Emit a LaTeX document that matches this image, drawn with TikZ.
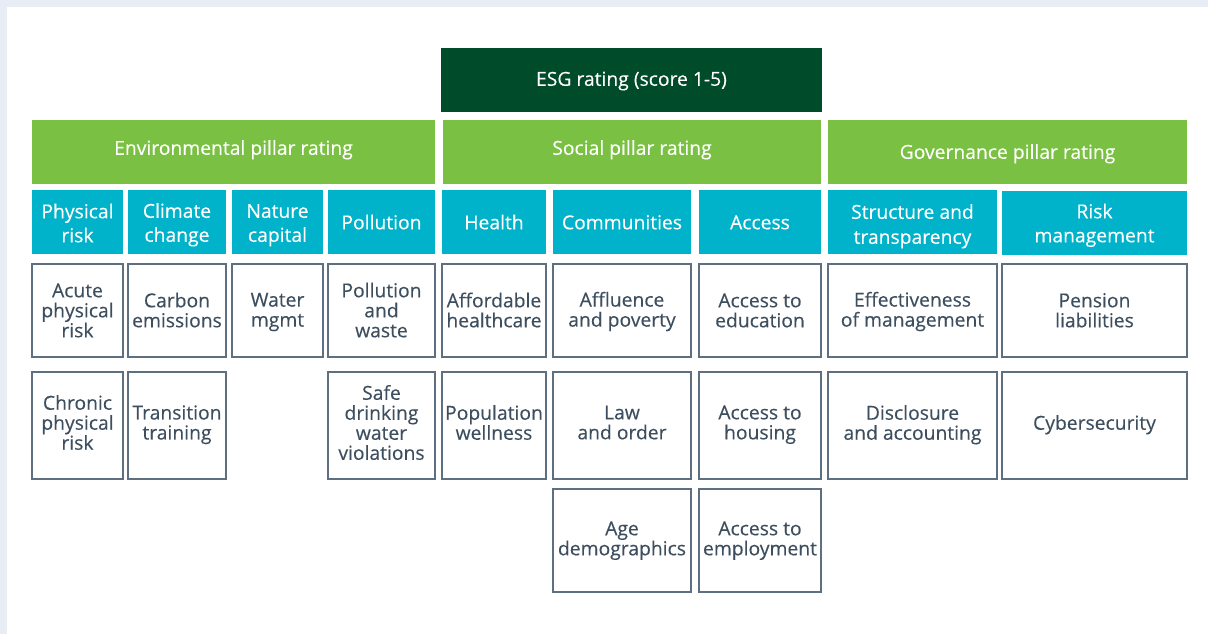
\documentclass[tikz,border=0pt]{standalone}
\usepackage{fontspec}
\setmainfont{Open Sans}[FakeBold=0.25]
\definecolor{bgpage}{HTML}{E8EDF5}
\definecolor{esgdark}{HTML}{004B29}
\definecolor{pillargreen}{HTML}{7AC143}
\definecolor{themecyan}{HTML}{00B3CA}
\definecolor{leafborder}{HTML}{5E7080}
\definecolor{leaftext}{HTML}{3D4F5F}
\newcommand{\ts}{\vrule height20.3pt depth3.7pt width0pt\relax}
\newcommand{\tsa}{\vrule height19.3pt depth4.7pt width0pt\relax}
\newcommand{\tsb}{\vrule height23.3pt depth1.7pt width0pt\relax}
\newcommand{\lsa}{\vrule height16.8pt depth3.2pt width0pt\relax}
\newcommand{\lsb}{\vrule height13.8pt depth6.2pt width0pt\relax}
\newcommand{\ls}{\vrule height14.8pt depth5.2pt width0pt\relax}
\tikzset{
  boxbase/.style={rectangle, inner sep=0pt, outer sep=0pt, anchor=north west, align=center},
  topbox/.style={boxbase, fill=esgdark, text=white, font=\fontsize{19.3}{24}\selectfont, text height=15pt, text depth=3.4pt},
  pillarbox/.style={boxbase, fill=pillargreen, text=white, font=\fontsize{19.3}{24}\selectfont, text height=10pt, text depth=4.4pt},
  govpillar/.style={pillarbox, text height=17pt, text depth=3.4pt},
  themebox/.style={boxbase, fill=themecyan, text=white, font=\fontsize{19.3}{24}\selectfont},
  themewide/.style={themebox, font=\fontsize{19.3}{25}\selectfont},
  leafbox/.style={boxbase, draw=leafborder, line width=1.3pt, fill=white, text=leaftext, font=\fontsize{19.3}{20}\selectfont},
}
\newcommand{\bx}[6]{\node[#1, minimum width=#4pt, minimum height=#5pt] (#2) at (#3) {#6};}
\lineskiplimit=-50pt
\begin{document}
\lineskiplimit=-50pt
\begin{tikzpicture}[x=1pt,y=-1pt]
\useasboundingbox (0,0) rectangle (1208,634);
\fill[bgpage] (0,0) rectangle (1208,634);
\fill[white] (7,7) rectangle (1208,634);
% top
\bx{topbox}{esg}{441,48}{381}{64}{ESG rating (score 1-5)}
% pillars
\bx{pillarbox}{env}{32,120}{403}{64}{Environmental pillar rating}
\bx{pillarbox}{soc}{443,120}{378}{64}{Social pillar rating}
\bx{govpillar}{gov}{828,120}{359}{64}{Governance pillar rating}
% themes
\bx{themebox}{phys}{32,190}{91}{64}{\ts Physical\\{}\ts risk}
\bx{themebox}{clim}{128,190}{98}{64}{\ts Climate\\{}\ts change}
\bx{themebox}{nat}{232,190}{91}{64}{\ts Nature\\{}\ts capital}
\bx{themebox}{poll}{328,190}{107}{64}{\tsa Pollution}
\bx{themebox}{health}{442,190}{104}{64}{\tsa Health}
\bx{themebox}{comm}{553,190}{138}{64}{\tsa Communities}
\bx{themebox}{acc}{699,190}{122}{64}{\tsa Access}
\bx{themewide}{struct}{828,190}{169}{64}{\tsb Structure and\\{}\tsb transparency}
\bx{themebox}{risk}{1002,191}{185}{64}{\tsa Risk\\{}\tsa management}
% leaves row 1
\bx{leafbox}{acute}{32,264}{91}{93}{\lsa Acute\\{}\lsa physical\\{}\lsa risk}
\bx{leafbox}{carbon}{128,264}{98}{93}{\lsa Carbon\\{}\lsa emissions}
\bx{leafbox}{water}{232,264}{91}{93}{\lsa Water\\{}\lsa mgmt}
\bx{leafbox}{pwaste}{328,264}{107}{93}{\lsa Pollution\\{}\lsa and\\{}\lsa waste}
\bx{leafbox}{afford}{442,264}{104}{93}{\lsa Affordable\\{}\lsa healthcare}
\bx{leafbox}{affl}{553,264}{138}{93}{\lsa Affluence\\{}\lsa and poverty}
\bx{leafbox}{educ}{699,264}{122}{93}{\lsa Access to\\{}\lsa education}
\bx{leafbox}{effect}{828,264}{169}{93}{\lsa Effectiveness\\{}\lsa of management}
\bx{leafbox}{pension}{1002,264}{185}{93}{\lsa Pension\\{}\lsa liabilities}
% leaves row 2
\bx{leafbox}{chronic}{32,372}{91}{107}{\lsb Chronic\\{}\lsb physical\\{}\lsb risk}
\bx{leafbox}{trans}{128,372}{98}{107}{\lsb Transition\\{}\lsb training}
\bx{leafbox}{safe}{328,372}{107}{107}{\lsb Safe\\{}\lsb drinking\\{}\lsb water\\{}\lsb violations}
\bx{leafbox}{popwell}{442,372}{104}{107}{\lsb Population\\{}\lsb wellness}
\bx{leafbox}{law}{553,372}{138}{107}{\lsb Law\\{}\lsb and order}
\bx{leafbox}{housing}{699,372}{122}{107}{\lsb Access to\\{}\lsb housing}
\bx{leafbox}{discl}{828,372}{169}{107}{\lsb Disclosure\\{}\lsb and accounting}
\bx{leafbox}{cyber}{1002,372}{185}{107}{\lsb Cybersecurity}
% leaves row 3
\bx{leafbox}{age}{553,489}{138}{103}{\ls Age\\{}\ls demographics}
\bx{leafbox}{employ}{699,489}{122}{103}{\ls Access to\\{}\ls employment}
\end{tikzpicture}
\end{document}
